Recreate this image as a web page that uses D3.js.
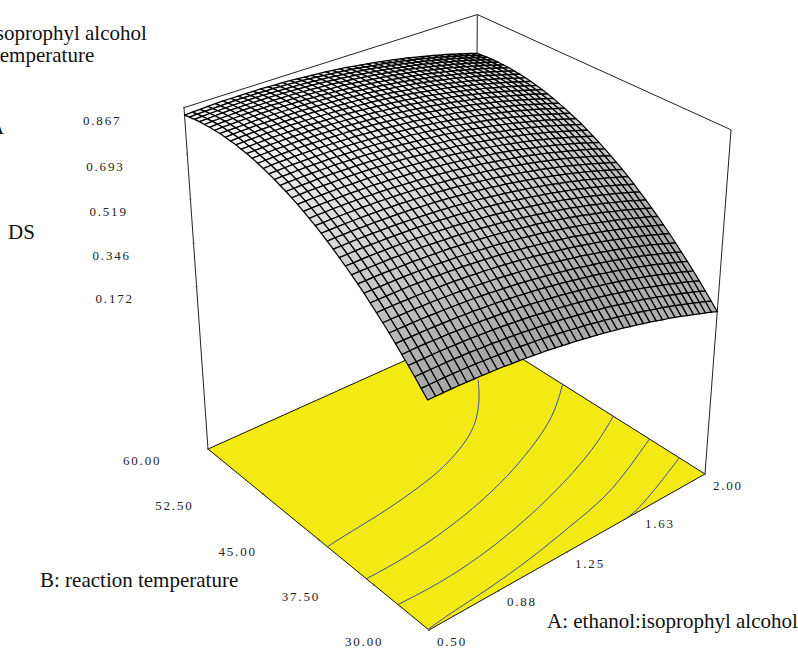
<!DOCTYPE html>
<head>
    <meta charset="utf-8">
    <title>DS response surface</title>
<style>
    html, body { margin: 0; padding: 0; background: #fff; }
    svg { display: block; }
    text { font-family: "Liberation Serif", serif; fill: #111; }
    .title { font-size: 21px; }
    .tick { font-size: 13px; letter-spacing: 1.8px; fill: #222; }
</style>
</head>
<body>
<script src="https://d3js.org/d3.v7.min.js"></script>
<script>
    // values
    const aTicks = [0.50, 0.88, 1.25, 1.63, 2.00];
    const bTicks = [30.00, 37.50, 45.00, 52.50, 60.00];
    const dsTicks = [0.172, 0.346, 0.519, 0.693, 0.867];

    // DS x 1000, rows go B 30 -> 60, columns go A 0.5 -> 2
    const dsGrid = [
        [364,364,364,364,363,362,361,360,358,357,355,352,350,347,344,341,338,334,330,326,322,317,312,307,302,296,291,285,278,272,265,258,251,243,236,228,220,211,203,194,185,176,166],
        [390,390,390,390,390,389,388,387,385,383,381,379,377,374,371,368,365,361,357,353,349,344,340,335,329,324,318,312,306,299,293,286,279,271,264,256,248,239,231,222,213,204,194],
        [416,416,416,416,416,415,414,413,411,409,408,405,403,400,398,394,391,388,384,380,375,371,366,361,356,350,345,339,333,326,320,313,306,298,291,283,275,266,258,249,240,231,221],
        [441,441,441,441,441,440,439,438,437,435,433,431,429,426,423,420,417,413,409,405,401,397,392,387,382,376,371,365,359,352,346,339,332,325,317,309,301,293,284,276,267,258,248],
        [465,466,466,466,465,464,464,462,461,459,458,455,453,451,448,445,442,438,434,430,426,422,417,412,407,402,396,390,384,378,371,364,357,350,343,335,327,319,310,301,293,283,274],
        [489,489,489,489,489,488,487,486,485,483,482,479,477,475,472,469,466,462,459,455,451,446,442,437,431,426,420,415,409,402,396,389,382,375,367,360,352,344,335,326,317,308,299],
        [512,512,512,512,512,511,510,509,508,506,505,503,501,498,495,492,489,486,482,478,474,470,465,460,455,450,444,438,432,426,420,413,406,399,391,384,376,368,359,351,342,333,323],
        [534,534,534,534,534,533,533,532,530,529,527,525,523,520,518,515,512,508,505,501,497,493,488,483,478,473,467,462,456,449,443,436,429,422,415,407,399,391,383,374,365,356,347],
        [555,556,556,556,555,555,554,553,552,551,549,547,545,542,540,537,534,530,527,523,519,515,510,505,500,495,490,484,478,472,465,459,452,445,437,430,422,414,406,397,388,379,370],
        [576,576,576,576,576,576,575,574,573,571,570,568,566,563,561,558,555,552,548,544,540,536,531,527,522,517,511,506,500,493,487,481,474,467,459,452,444,436,428,419,410,401,392],
        [596,596,596,596,596,596,595,594,593,592,590,588,586,584,581,578,575,572,569,565,561,557,552,548,543,537,532,526,521,514,508,502,495,488,480,473,465,457,449,440,432,423,414],
        [615,615,616,616,615,615,614,614,612,611,609,608,606,603,601,598,595,592,588,585,581,576,572,567,563,558,552,547,541,535,528,522,515,508,501,493,485,478,469,461,452,443,434],
        [633,634,634,634,634,634,633,632,631,630,628,626,624,622,620,617,614,611,607,604,600,596,591,587,582,577,571,566,560,554,548,541,535,528,520,513,505,497,489,481,472,463,454],
        [651,651,652,652,652,651,651,650,649,648,646,645,643,640,638,635,632,629,626,622,618,614,610,605,600,595,590,585,579,573,567,560,553,547,539,532,524,516,508,500,491,483,473],
        [667,668,669,669,669,668,668,667,666,665,664,662,660,658,655,653,650,647,643,640,636,632,628,623,618,613,608,602,597,591,585,578,572,565,557,550,542,535,527,518,510,501,492],
        [684,684,685,685,685,685,684,684,683,681,680,678,676,674,672,669,667,663,660,657,653,649,644,640,635,630,625,620,614,608,602,595,589,582,575,568,560,552,544,536,527,519,510],
        [699,700,700,701,701,700,700,699,698,697,696,694,692,690,688,685,683,679,676,673,669,665,661,656,652,647,641,636,630,625,618,612,605,599,592,584,577,569,561,553,544,536,527],
        [714,714,715,715,715,715,715,714,713,712,711,709,707,705,703,701,698,695,692,688,684,680,676,672,667,662,657,652,646,640,634,628,621,615,608,600,593,585,577,569,560,552,543],
        [728,728,729,729,729,729,729,728,728,726,725,724,722,720,718,715,712,709,706,703,699,695,691,687,682,677,672,667,661,655,649,643,636,630,623,616,608,600,592,584,576,567,558],
        [741,742,742,743,743,743,742,742,741,740,739,737,735,733,731,729,726,723,720,717,713,709,705,701,696,691,686,681,675,670,664,657,651,644,637,630,623,615,607,599,591,582,573],
        [753,754,755,755,755,755,755,754,754,753,751,750,748,746,744,742,739,736,733,730,726,722,718,714,709,705,700,694,689,683,677,671,664,658,651,644,636,629,621,613,604,596,587],
        [765,766,767,767,767,767,767,766,766,765,764,762,760,759,756,754,751,749,745,742,739,735,731,726,722,717,712,707,702,696,690,684,677,671,664,657,649,642,634,626,618,609,600],
        [776,777,778,778,778,778,778,778,777,776,775,773,772,770,768,766,763,760,757,754,750,746,743,738,734,729,724,719,714,708,702,696,690,683,676,669,662,654,646,638,630,622,613],
        [786,787,788,788,789,789,789,788,787,787,785,784,782,781,779,776,774,771,768,765,761,757,754,749,745,740,735,730,725,719,713,707,701,694,688,681,673,666,658,650,642,633,625],
        [795,797,797,798,798,798,798,798,797,796,795,794,792,791,789,786,784,781,778,775,771,768,764,760,755,751,746,741,735,730,724,718,712,705,698,691,684,677,669,661,653,644,636],
        [804,805,806,807,807,807,807,807,806,805,804,803,802,800,798,796,793,790,788,784,781,777,773,769,765,760,755,750,745,740,734,728,722,715,708,701,694,687,679,671,663,655,646],
        [812,813,814,815,815,815,815,815,815,814,813,812,810,808,806,804,802,799,796,793,790,786,782,778,774,769,764,759,754,749,743,737,731,724,718,711,704,696,689,681,673,664,656],
        [819,821,822,822,823,823,823,823,822,821,820,819,818,816,814,812,810,807,804,801,798,794,790,786,782,777,773,768,762,757,751,745,739,733,726,719,712,705,697,689,681,673,664],
        [826,827,828,829,829,830,830,829,829,828,827,826,825,823,821,819,817,814,811,808,805,801,798,794,789,785,780,775,770,765,759,753,747,741,734,727,720,713,705,697,689,681,673],
        [832,833,834,835,835,836,836,835,835,834,833,832,831,829,827,825,823,821,818,815,811,808,804,800,796,792,787,782,777,771,766,760,754,748,741,734,727,720,712,705,697,688,680],
        [837,838,839,840,840,841,841,841,840,840,839,838,836,835,833,831,829,826,823,820,817,814,810,806,802,798,793,788,783,778,772,766,760,754,747,741,734,726,719,711,703,695,687],
        [841,842,843,844,845,845,845,845,845,844,843,842,841,840,838,836,834,831,828,825,822,819,815,811,807,803,798,793,788,783,777,772,766,759,753,746,739,732,725,717,709,701,692],
        [845,846,847,848,849,849,849,849,849,848,847,846,845,844,842,840,838,835,833,830,827,823,820,816,812,807,803,798,793,788,782,776,770,764,758,751,744,737,730,722,714,706,698],
        [847,849,850,851,851,852,852,852,852,851,851,850,848,847,845,843,841,839,836,833,830,827,823,819,815,811,806,802,797,791,786,780,774,768,762,755,748,741,734,726,718,710,702],
        [849,851,852,853,854,854,854,854,854,854,853,852,851,849,848,846,844,841,839,836,833,830,826,822,818,814,810,805,800,795,789,784,778,772,765,759,752,745,737,730,722,714,706],
        [851,852,853,854,855,856,856,856,856,855,855,854,853,851,850,848,846,843,841,838,835,832,828,824,821,816,812,807,802,797,792,786,780,774,768,761,754,747,740,732,725,717,708],
        [851,853,854,855,856,856,857,857,857,856,856,855,854,852,851,849,847,845,842,839,836,833,830,826,822,818,813,809,804,799,793,788,782,776,770,763,756,749,742,735,727,719,711],
        [851,853,854,855,856,856,857,857,857,856,856,855,854,853,851,849,847,845,843,840,837,834,830,827,823,819,814,810,805,800,794,789,783,777,771,764,757,750,743,736,728,720,712],
        [850,852,853,854,855,856,856,856,856,856,855,855,854,852,851,849,847,845,842,840,837,834,830,827,823,819,814,810,805,800,795,789,783,777,771,765,758,751,744,736,729,721,713],
        [849,850,852,853,854,854,855,855,855,855,854,853,852,851,850,848,846,844,841,839,836,833,829,826,822,818,814,809,804,799,794,789,783,777,771,764,758,751,744,736,729,721,713],
        [846,848,849,850,851,852,853,853,853,853,852,851,850,849,848,846,844,842,840,837,834,831,828,824,821,817,812,808,803,798,793,787,782,776,770,763,757,750,743,735,728,720,712],
        [843,845,846,847,848,849,850,850,850,850,849,849,848,847,845,844,842,840,837,835,832,829,826,822,818,814,810,806,801,796,791,785,780,774,768,761,755,748,741,734,726,718,710],
        [839,841,842,844,845,846,846,846,846,846,846,845,844,843,842,840,838,836,834,832,829,826,823,819,815,811,807,803,798,793,788,783,777,771,765,759,752,746,739,731,724,716,708]
    ];

    // contour lines on the floor
    const contourA = [
        [1.73,1.63,1.48,1.32,1.15,0.98,0.80,0.62,0.50],
        [2.00,1.90,1.76,1.55,1.35,1.15,0.95,0.70,0.50],
        [2.00,1.81,1.58,1.37,1.16,0.92,0.70,0.50],
        [2.00,1.79,1.57,1.32,1.06,0.79,0.62,0.50],
        [2.00,1.78,1.61,1.53]
    ];
    const contourB = [
        [53.2,50.6,47.7,46.0,44.7,44.0,43.4,43.1,42.8],
        [47.7,46.1,44.1,42.1,40.5,39.3,38.4,37.7,37.7],
        [41.1,39.1,37.3,36.0,34.9,34.0,33.6,33.75],
        [36.6,34.8,33.1,32.2,31.2,30.6,30.4,30.1],
        [33.0,31.35,30.2,30.0]
    ];

    const width = 798, height = 651;

    const A = d3.scaleLinear().domain([0.5, 2]).range([0, 1]);
    const B = d3.scaleLinear().domain([30, 60]).range([0, 1]);
    const Z = d3.scaleLinear().domain([-0.523, 0.867]).range([0, 1]);

    const shade = d3.scaleLinear()
        .domain([0.15, 0.4, 0.7, 0.85])
        .range(["#b4b4b4", "#a8a8a8", "#d8d8d8", "#f4f4f4"]);

    // perspective camera, unit cube to screen
    function project(a, b, z) {
        const w = 1 + 0.1287 * a + 0.1447 * b - 0.104 * z;
        return [
            (429 + 366.7 * a - 190.9 * b - 46.6 * z) / w,
            (630 - 95 * a - 116 * b - 402 * z) / w
        ];
    }
    const pt = (aVal, bVal, ds) => project(A(aVal), B(bVal), Z(ds));
    const floorZ = Z.domain()[0], topZ = Z.domain()[1];

    const svg = d3.select("body").append("svg")
        .attr("width", width)
        .attr("height", height);

    const line = d3.line();

    // floor
    svg.append("path")
        .attr("d", line([pt(0.5, 30, floorZ), pt(2, 30, floorZ), pt(2, 60, floorZ), pt(0.5, 60, floorZ)]) + "Z")
        .attr("fill", "#f3ea14")
        .attr("stroke", "#111")
        .attr("stroke-width", 1);

    const contourLine = d3.line().curve(d3.curveBasis);
    svg.append("g").selectAll("path")
        .data(contourA)
        .join("path")
        .attr("d", (d, k) => contourLine(d.map((v, i) => pt(v, contourB[k][i], floorZ))))
        .attr("fill", "none")
        .attr("stroke", "#3c4aa0")
        .attr("stroke-width", 1);

    // box
    const frame = [
        [[0.5, 60, floorZ], [0.5, 60, topZ]],
        [[2, 30, floorZ], [2, 30, topZ]],
        [[2, 60, floorZ], [2, 60, topZ]],
        [[0.5, 60, topZ], [2, 60, topZ]],
        [[2, 60, topZ], [2, 30, topZ]]
    ];
    svg.append("g").selectAll("path")
        .data(frame)
        .join("path")
        .attr("d", d => line(d.map(p => pt(p[0], p[1], p[2]))))
        .attr("fill", "none")
        .attr("stroke", "#222")
        .attr("stroke-width", 1);

    // surface, back corner first
    const nB = dsGrid.length, nA = dsGrid[0].length;
    const aVal = i => A.invert(i / (nA - 1));
    const bVal = j => B.invert(j / (nB - 1));
    const gridPt = (i, j) => pt(aVal(i), bVal(j), dsGrid[j][i] / 1000);
    const cells = [];
    for (let j = nB - 2; j >= 0; j--) {
        for (let i = nA - 2; i >= 0; i--) {
            cells.push({i: i, j: j});
        }
    }
    svg.append("g").selectAll("path")
        .data(cells)
        .join("path")
        .attr("d", c => line([gridPt(c.i, c.j), gridPt(c.i + 1, c.j), gridPt(c.i + 1, c.j + 1), gridPt(c.i, c.j + 1)]) + "Z")
        .attr("fill", c => shade((dsGrid[c.j][c.i] + dsGrid[c.j + 1][c.i + 1]) / 2000))
        .attr("stroke", "#000")
        .attr("stroke-width", 1.25)
        .attr("stroke-linejoin", "round");

    // the floor ticks sit evenly along the two front edges
    const front = pt(0.5, 30, floorZ), leftEnd = pt(0.5, 60, floorZ), rightEnd = pt(2, 30, floorZ);
    const bEdgeX = d3.scaleLinear().domain([30, 60]).range([front[0], leftEnd[0]]);
    const bEdgeY = d3.scaleLinear().domain([30, 60]).range([front[1], leftEnd[1]]);
    const aEdgeX = d3.scaleLinear().domain([0.5, 2]).range([front[0], rightEnd[0]]);
    const aEdgeY = d3.scaleLinear().domain([0.5, 2]).range([front[1], rightEnd[1]]);

    const tickDots = []
        .concat(dsTicks.map(v => pt(0.5, 60, v)))
        .concat(bTicks.map(v => [bEdgeX(v), bEdgeY(v)]))
        .concat(aTicks.map(v => [aEdgeX(v), aEdgeY(v)]));
    svg.append("g").selectAll("circle")
        .data(tickDots)
        .join("circle")
        .attr("cx", d => d[0])
        .attr("cy", d => d[1])
        .attr("r", 1)
        .attr("fill", "#555");

    svg.append("g").selectAll("text")
        .data(dsTicks)
        .join("text")
        .attr("class", "tick")
        .attr("x", d => pt(0.5, 60, d)[0] - 101)
        .attr("y", d => pt(0.5, 60, d)[1] + 17)
        .text(d => d.toFixed(3));

    const bDx = [-84, -92, -100, -108, -85];
    svg.append("g").selectAll("text")
        .data(bTicks)
        .join("text")
        .attr("class", "tick")
        .attr("x", (d, i) => bEdgeX(d) + bDx[i])
        .attr("y", d => bEdgeY(d) + 16)
        .text(d => d.toFixed(2));

    svg.append("g").selectAll("text")
        .data(aTicks)
        .join("text")
        .attr("class", "tick")
        .attr("x", d => aEdgeX(d) + 8)
        .attr("y", d => aEdgeY(d) + 16)
        .text(d => d.toFixed(2));

    const titles = [
        ["A: ethanol:isoprophyl alcohol", -104, 40],
        ["B: reaction temperature", -104, 62],
        ["A", -11, 134],
        ["DS", 8, 239],
        ["B: reaction temperature", 40, 587],
        ["A: ethanol:isoprophyl alcohol", 547, 628]
    ];
    svg.append("g").selectAll("text")
        .data(titles)
        .join("text")
        .attr("class", "title")
        .attr("x", d => d[1])
        .attr("y", d => d[2])
        .text(d => d[0]);
</script>
